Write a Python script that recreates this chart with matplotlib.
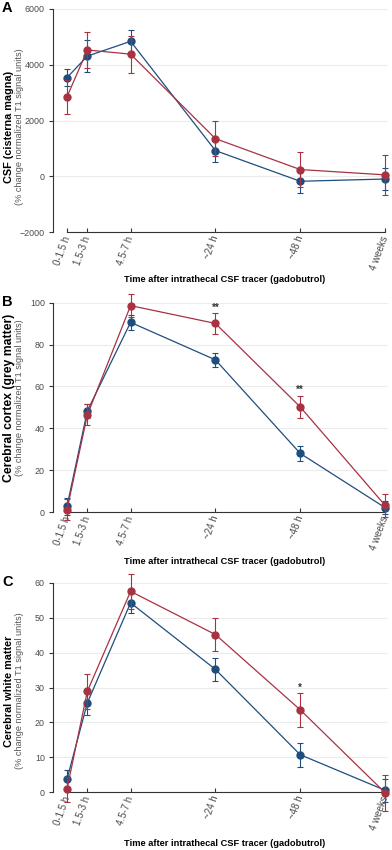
import matplotlib.pyplot as plt

plt.rcParams['font.family'] = ['Liberation Sans', 'DejaVu Sans']

# === Daten ===
timepoints = ["0-1.5 h", "1.5-3 h", "4.5-7 h", "~24 h", "~48 h", "4 weeks"]
x_pos = [0, 0.24, 0.75, 1.75, 2.75, 3.75]

csf_blue = [3540, 4310, 4840, 920, -180, -100]
csf_blue_err = [290, 580, 410, 400, 430, 410]
csf_red = [2850, 4530, 4380, 1350, 240, 50]
csf_red_err = [600, 650, 660, 620, 620, 710]

gm_blue = [2.7, 48.3, 90.6, 72.7, 28.0, 2.1]
gm_blue_err = [4.0, 3.5, 3.5, 3.5, 3.5, 3.0]
gm_red = [1.1, 46.4, 98.6, 90.1, 50.2, 3.2]
gm_red_err = [5.0, 5.0, 5.5, 5.2, 5.3, 5.5]

wm_blue = [3.7, 25.6, 54.3, 35.2, 10.7, 0.5]
wm_blue_err = [2.5, 3.6, 3.0, 3.2, 3.4, 3.3]
wm_red = [0.8, 28.9, 57.6, 45.2, 23.6, -0.2]
wm_red_err = [3.6, 5.0, 5.0, 4.8, 4.8, 5.2]

gm_stars = [("**", 3, 97.5), ("**", 4, 58.3)]
wm_stars = [("*", 4, 29.9)]

blue = "#1f4e7d"
red = "#a83242"

fig = plt.figure(figsize=(3.92, 8.5), dpi=100)

panels = [
    # (Buchstabe, oben px, unten px, blau, err, rot, err, ylim, yticks, ylabel, Schrift, Mitte px, Sterne, xlabel px)
    ("A", 9, 232, csf_blue, csf_blue_err, csf_red, csf_red_err, (-2000, 6000),
     [-2000, 0, 2000, 4000, 6000], "CSF (cisterna magna)", 7.8, 127, [], 280),
    ("B", 302.7, 512, gm_blue, gm_blue_err, gm_red, gm_red_err, (0, 100),
     [0, 20, 40, 60, 80, 100], "Cerebral cortex (grey matter)", 8.8, 398, gm_stars, 561.7),
    ("C", 583, 792, wm_blue, wm_blue_err, wm_red, wm_red_err, (0, 60),
     [0, 10, 20, 30, 40, 50, 60], "Cerebral white matter", 7.8, 691, wm_stars, 843),
]

W, H = 392, 850
for (lab, top, bot, yb, eb, yr, er, ylim, yticks, ylab, ylab_fs, ylab_y, stars, xlab_y) in panels:
    ax = fig.add_axes([53 / W, 1 - bot / H, (388 - 53) / W, (bot - top) / H])
    # rot liegt oben
    for y, e, c, z in [(yb, eb, blue, 3), (yr, er, red, 4)]:
        ax.errorbar(x_pos, y, yerr=e, color=c, lw=0.9, marker="o", ms=5,
                    elinewidth=0.8, capsize=2, capthick=0.8, ecolor=c,
                    clip_on=False, zorder=z)
    for s, i, sy in stars:
        ax.text(x_pos[i], sy, s, ha="center", va="center", fontsize=7,
                color="#333333", fontweight="bold")

    ax.set_xlim(-0.165, 3.785)
    ax.set_ylim(*ylim)
    ax.set_yticks(yticks)
    ax.set_xticks(x_pos)
    ax.set_xticklabels(timepoints, rotation=70, ha="right", va="center",
                       rotation_mode="anchor", fontsize=7, color="#4a4a4a")
    ax.tick_params(axis="y", labelsize=6.4, labelcolor="#4a4a4a", length=3,
                   width=0.8, color="#333333", pad=2.8)
    ax.tick_params(axis="x", direction="in", length=3, width=0.8,
                   color="#333333", pad=3)
    ax.yaxis.grid(True, color="#ececec", lw=0.8)
    ax.set_axisbelow(True)
    for sp in ["top", "right"]:
        ax.spines[sp].set_visible(False)
    ax.spines["bottom"].set_bounds(x_pos[0], x_pos[-1])
    ax.spines["left"].set_color("#333333")
    ax.spines["bottom"].set_color("#333333")

    fig.text(2 / W, 1 - (top - 1) / H, lab, fontsize=10.5, fontweight="bold",
             ha="left", va="center")
    fig.text(9.5 / W, 1 - ylab_y / H, ylab, rotation=90, fontsize=ylab_fs,
             fontweight="bold", ha="center", va="center")
    fig.text(19.5 / W, 1 - ylab_y / H, "(% change normalized T1 signal units)",
             rotation=90, fontsize=6.6, color="#555555", ha="center", va="center")
    fig.text(224.5 / W, 1 - xlab_y / H,
             "Time after intrathecal CSF tracer (gadobutrol)",
             fontsize=6.7, fontweight="bold", ha="center", va="center")

fig.savefig("out.png", dpi=100)
